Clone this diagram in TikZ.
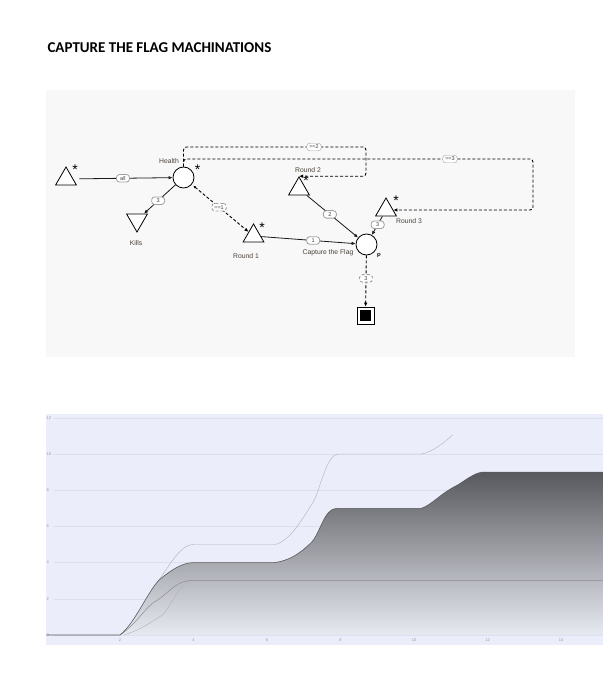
\documentclass[tikz,border=0pt]{standalone}
\usepackage{fontspec}
\setmainfont{Liberation Sans}
\newfontfamily\titlefont{Carlito}
\usetikzlibrary{positioning,arrows.meta,shapes.geometric}
\definecolor{panelgray}{HTML}{F8F8F8}
\definecolor{chartblue}{HTML}{EBEEFA}
\definecolor{gridblue}{HTML}{DCDFEE}
\definecolor{labeltext}{HTML}{4A4238}
\definecolor{areatop}{RGB}{88,89,94}
\definecolor{areamid}{RGB}{140,142,150}
\definecolor{areabot}{RGB}{232,234,242}
\newdimen\mcsize
\setlength{\mcsize}{24pt}
\tikzstyle{poolstyle}=[shape=circle,draw,fill=white,minimum size=21pt,inner sep=0pt,line width=0.8pt]
\tikzstyle{sourcestyle}=[shape=regular polygon,regular polygon sides=3,draw,fill=white,minimum size=\mcsize,inner sep=0pt,line width=0.8pt]
\tikzstyle{drainstyle}=[sourcestyle,shape border rotate=180]
\tikzstyle{endstyle}=[shape=rectangle,draw,fill=white,minimum size=17pt,inner sep=0pt,line width=0.8pt]
\tikzstyle{namestyle}=[font=\fontsize{6.8}{7}\selectfont,text=labeltext,inner sep=0pt]
\tikzstyle{starstyle}=[font=\fontsize{14}{14}\selectfont,inner sep=0pt,anchor=north]
\tikzstyle{edgelabstyle}=[shape=rectangle,rounded corners=3pt,draw=gray!75,fill=white,font=\fontsize{5.5}{6}\selectfont,text=black!75,inner xsep=2.5pt,inner ysep=0.8pt,minimum height=7.5pt,minimum width=13pt]
\tikzstyle{flowstyle}=[draw=black!90,line width=0.8pt,-{Latex[length=4pt,width=3.5pt]}]
\tikzstyle{statestyle}=[flowstyle,draw=black,line width=0.9pt,dash pattern=on 3pt off 2pt]
\tikzstyle{ticklabstyle}=[font=\fontsize{4}{4}\selectfont,text=gray!80,inner sep=0pt]
\newcommand{\ctfcurve}{(0,0) -- (2,0) .. controls (2.4,0.6) and (2.8,2.6) .. (3.1,3.1) .. controls (3.4,3.6) and (3.7,4) .. (4,4) -- (6.2,4) .. controls (6.6,4.1) and (6.9,4.5) .. (7.2,5.1) .. controls (7.45,5.6) and (7.55,7) .. (7.9,7) -- (10.2,7) .. controls (10.5,7.2) and (10.7,7.8) .. (11.2,8.3) .. controls (11.5,8.7) and (11.7,9) .. (11.9,9) -- (15.14,9)}

\begin{document}
\begin{tikzpicture}[x=1pt,y=-1pt]
\useasboundingbox (0,0) rectangle (615,688);
\node[anchor=base west,font=\titlefont\bfseries\fontsize{15}{17}\selectfont] (title) at (44,52) {CAPTURE THE FLAG MACHINATIONS};

% machinations diagram
\fill[panelgray] (46,90) rectangle (575,357);
\node[sourcestyle] (src) at (66,179) {};
\node[poolstyle] (health) at (183.5,177.5) {};
\node[drainstyle] (kills) at (137,220) {};
\node[sourcestyle] (round1) at (253.5,236) {};
\node[sourcestyle] (round2) at (299,189) {};
\node[sourcestyle] (round3) at (386,210) {};
\node[poolstyle] (ctf) at (366.5,244.5) {};
\node[endstyle] (finish) at (365.5,315.5) {};
\fill ([shift={(-5.5pt,-5.5pt)}]finish.center) rectangle ([shift={(5.5pt,5.5pt)}]finish.center);

\node[starstyle] (srcstar) at (75,164.5) {*};
\node[starstyle] (healthstar) at (197.5,165) {*};
\node[starstyle] (round1star) at (262,222.5) {*};
\node[starstyle] (round2star) at (306,175.5) {*};
\node[starstyle] (round3star) at (396,195.5) {*};

\node[namestyle] (healthlab) at (169,161) {Health};
\node[namestyle] (killslab) at (136,243) {Kills};
\node[namestyle] (round1lab) at (246,256) {Round 1};
\node[namestyle] (round2lab) at (308,170) {Round 2};
\node[namestyle] (round3lab) at (409,221) {Round 3};
\node[namestyle] (ctflab) at (328,253) {Capture the Flag};
\node[namestyle,font=\fontsize{5.5}{6}\selectfont\bfseries,text=black] (ctfp) at (379,256) {P};

\draw[flowstyle,shorten <=6pt] (src) -- node[edgelabstyle] (lab0) {all} (health);
\draw[flowstyle] (health) -- node[edgelabstyle,pos=0.55] (lab1) {3} (kills);
\draw[statestyle,{Latex[length=2.5pt,width=2.5pt]}-{Latex[length=4pt,width=3.5pt]},shorten <=2pt] (health) -- node[edgelabstyle,pos=0.48] (lab2) {==1} (round1);
\draw[flowstyle] (round1) -- node[edgelabstyle,pos=0.55] (lab3) {1} (ctf);
\draw[flowstyle] (round2) -- node[edgelabstyle,pos=0.45] (lab4) {2} (ctf);
\draw[flowstyle] (round3) -- node[edgelabstyle,pos=0.45] (lab5) {3} (ctf);
\draw[statestyle] (ctf) -- node[edgelabstyle,pos=0.45] (lab6) {3} (finish);
\draw[statestyle,rounded corners=3pt] (health.north) |- (366,147) |- (round2.corner 1);
\draw[statestyle,rounded corners=3pt] (health.north) |- (533,159) |- (round3.east);
\node[edgelabstyle] (lab7) at (314,147) {==2};
\node[edgelabstyle] (lab8) at (450,159) {==3};

% chart
\fill[chartblue] (46,414) rectangle (603,645);
\begin{scope}[shift={(46.5pt,-635pt)},x=36.75pt,y=18.1pt]
\foreach \gy in {0,2,...,12} {
  \draw[gridblue,line width=0.5pt] (0.2,\gy) -- (15.14,\gy);
  \node[ticklabstyle,anchor=west] (ytick\gy) at (0,\gy) {\gy};
}
\foreach \gx in {2,4,...,14} {
  \node[ticklabstyle] (xtick\gx) at (\gx,-0.3) {\gx};
}
\shade[top color=areatop,middle color=areamid,bottom color=areabot] \ctfcurve -- (15.14,0) -- cycle;
\draw[black!30,line width=0.4pt] (3.0,2.9) .. controls (3.3,3.6) and (3.6,5) .. (4,5) -- (6.2,5) .. controls (6.6,5.1) and (7,6.5) .. (7.3,7.5) .. controls (7.5,8.5) and (7.65,10) .. (7.95,10) -- (10.2,10) .. controls (10.5,10.1) and (10.8,10.6) .. (11.05,11.05);
\draw[black!30,line width=0.4pt] (2.1,0) .. controls (2.6,0.3) and (2.9,0.8) .. (3.15,1.1) .. controls (3.4,1.6) and (3.6,2.8) .. (3.9,3);
\draw[black!45,line width=0.5pt] (2,0) .. controls (2.5,0.7) and (2.7,1.6) .. (3,1.9) .. controls (3.3,2.3) and (3.5,2.9) .. (3.85,3) -- (15.14,3);
\draw[black!65,line width=0.6pt] \ctfcurve;
\end{scope}
\end{tikzpicture}
\end{document}
